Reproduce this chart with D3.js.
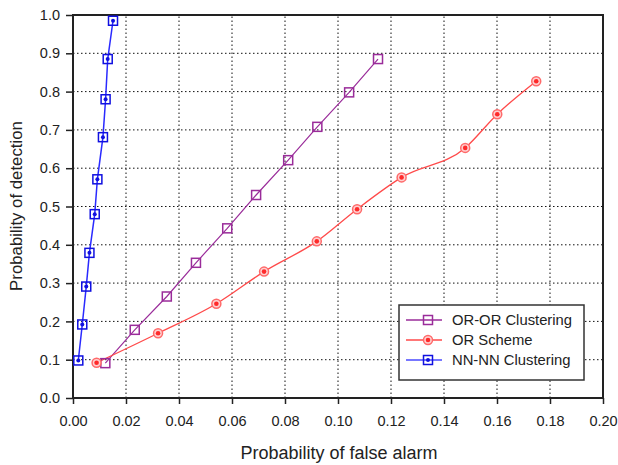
<!DOCTYPE html>
<html>
<head>
<meta charset="utf-8">
<script src="https://cdn.jsdelivr.net/npm/d3@7"></script>
<style>
  body { margin: 0; background: #fff; }
  text { font-family: Arial, "Liberation Sans", sans-serif; fill: #222; }
</style>
</head>
<body>
<div id="chart"></div>
<script>
// ---- data ----
var orOrPfa = [0.0122, 0.0233, 0.0354, 0.0464, 0.0582, 0.0691, 0.0812, 0.0922, 0.1042, 0.1151];
var orOrPd  = [0.091, 0.178, 0.265, 0.353, 0.443, 0.530, 0.621, 0.708, 0.798, 0.885];

var orPfa = [0.0089, 0.0321, 0.0541, 0.0721, 0.0920, 0.1072, 0.1240, 0.1480, 0.1601, 0.1748];
var orPd  = [0.092, 0.169, 0.246, 0.330, 0.409, 0.493, 0.576, 0.653, 0.741, 0.827];

var nnPfa = [0.0020, 0.0035, 0.0050, 0.0062, 0.0082, 0.0092, 0.0113, 0.0123, 0.0131, 0.0151];
var nnPd  = [0.098, 0.192, 0.291, 0.379, 0.480, 0.571, 0.681, 0.780, 0.885, 0.985];

var xTicks = [0, 0.02, 0.04, 0.06, 0.08, 0.10, 0.12, 0.14, 0.16, 0.18, 0.20];
var yTicks = [0, 0.1, 0.2, 0.3, 0.4, 0.5, 0.6, 0.7, 0.8, 0.9, 1.0];
var seriesNames = ["OR-OR Clustering", "OR Scheme", "NN-NN Clustering"];

//=====================================================
var width = 618, height = 465;
var margin = { left: 73, top: 15, right: 15, bottom: 67 };

var svg = d3.select("#chart").append("svg")
  .attr("width", width)
  .attr("height", height);

var x = d3.scaleLinear().domain([0, 0.2]).range([margin.left, width - margin.right]);
var y = d3.scaleLinear().domain([0, 1]).range([height - margin.bottom, margin.top]);

// grid
var grid = svg.append("g").attr("class", "grid");
grid.selectAll(".gx").data(xTicks.slice(1, -1)).enter().append("line")
  .attr("x1", function(d) { return x(d); }).attr("x2", function(d) { return x(d); })
  .attr("y1", y(0)).attr("y2", y(1))
  .attr("stroke", "#111").attr("stroke-width", 1).attr("stroke-dasharray", "1.5,2.5");
grid.selectAll(".gy").data(yTicks.slice(1, -1)).enter().append("line")
  .attr("y1", function(d) { return y(d); }).attr("y2", function(d) { return y(d); })
  .attr("x1", x(0)).attr("x2", x(0.2))
  .attr("stroke", "#111").attr("stroke-width", 1).attr("stroke-dasharray", "1.5,2.5");

// axes
var xAxis = svg.append("g")
  .attr("transform", "translate(0," + y(0) + ")")
  .call(d3.axisBottom(x).tickValues(xTicks).tickFormat(d3.format(".2f")).tickSize(6).tickPadding(12));
var yAxis = svg.append("g")
  .attr("transform", "translate(" + x(0) + ",0)")
  .call(d3.axisLeft(y).tickValues(yTicks).tickFormat(d3.format(".1f")).tickSize(7).tickPadding(6));

[xAxis, yAxis].forEach(function(a) {
  a.select(".domain").remove();
  a.selectAll("line").attr("stroke", "#222").attr("stroke-width", 1.5);
  a.selectAll("text").attr("font-size", 14.5).attr("fill", "#222")
    .attr("font-family", "Arial, 'Liberation Sans', sans-serif");
});

// frame
svg.append("rect")
  .attr("x", x(0)).attr("y", y(1))
  .attr("width", x(0.2) - x(0)).attr("height", y(0) - y(1))
  .attr("fill", "none").attr("stroke", "#222").attr("stroke-width", 2);

// axis titles
svg.append("text")
  .attr("x", 339).attr("y", 459)
  .attr("text-anchor", "middle").attr("font-size", 18)
  .text("Probability of false alarm");
svg.append("text")
  .attr("transform", "translate(22," + 206 + ") rotate(-90)")
  .attr("text-anchor", "middle").attr("font-size", 16.8)
  .text("Probability of detection");

//=====================================================
var purple = "#9a2c9a", red = "#ff2a2a", blue = "#1010e0";

function pts(xs, ys) { return xs.map(function(v, i) { return [v, ys[i]]; }); }

var lineLin = d3.line().x(function(d) { return x(d[0]); }).y(function(d) { return y(d[1]); });
var lineCurve = d3.line().curve(d3.curveMonotoneX)
  .x(function(d) { return x(d[0]); }).y(function(d) { return y(d[1]); });

var plot = svg.append("g");

// OR-OR clustering
plot.append("path").datum(pts(orOrPfa, orOrPd))
  .attr("d", lineLin).attr("fill", "none").attr("stroke", purple).attr("stroke-width", 1.2);
// OR scheme
plot.append("path").datum(pts(orPfa, orPd))
  .attr("d", lineCurve).attr("fill", "none").attr("stroke", "#ff4a4a").attr("stroke-width", 1.3);
// NN-NN clustering
plot.append("path").datum(pts(nnPfa, nnPd))
  .attr("d", lineLin).attr("fill", "none").attr("stroke", "#2a2aff").attr("stroke-width", 1.5);

function squareMarker(g, color, dot) {
  g.append("rect").attr("x", -4.5).attr("y", -4.5).attr("width", 9).attr("height", 9)
    .attr("fill", "none").attr("stroke", color).attr("stroke-width", 1.5);
  if (dot) g.append("circle").attr("r", 2).attr("fill", color);
}
function circleMarker(g) {
  g.append("circle").attr("r", 4.5).attr("fill", "#ffd0d0").attr("stroke", "#ff6a6a").attr("stroke-width", 1.5);
  g.append("circle").attr("r", 2.3).attr("fill", red);
}

plot.selectAll(".m1").data(pts(orOrPfa, orOrPd)).enter().append("g")
  .attr("transform", function(d) { return "translate(" + x(d[0]) + "," + y(d[1]) + ")"; })
  .each(function() { squareMarker(d3.select(this), purple, false); });
plot.selectAll(".m2").data(pts(orPfa, orPd)).enter().append("g")
  .attr("transform", function(d) { return "translate(" + x(d[0]) + "," + y(d[1]) + ")"; })
  .each(function() { circleMarker(d3.select(this)); });
plot.selectAll(".m3").data(pts(nnPfa, nnPd)).enter().append("g")
  .attr("transform", function(d) { return "translate(" + x(d[0]) + "," + y(d[1]) + ")"; })
  .each(function() { squareMarker(d3.select(this), blue, true); });

//=====================================================
// legend
var legend = svg.append("g").attr("transform", "translate(399,305)");
legend.append("rect").attr("width", 185).attr("height", 75)
  .attr("fill", "#fff").attr("stroke", "#333").attr("stroke-width", 1.5);

var legColors = [purple, "#ff4a4a", "#4a4aff"];
seriesNames.forEach(function(name, i) {
  var row = legend.append("g").attr("transform", "translate(0," + (15 + i * 20) + ")");
  row.append("line").attr("x1", 7).attr("x2", 43).attr("y1", 0).attr("y2", 0)
    .attr("stroke", legColors[i]).attr("stroke-width", 1.5);
  var m = row.append("g").attr("transform", "translate(29,0)");
  if (i === 0) squareMarker(m, purple, false);
  else if (i === 1) circleMarker(m);
  else squareMarker(m, blue, true);
  row.append("text").attr("x", 53).attr("y", 5).attr("font-size", 14.8).text(name);
});
</script>
</body>
</html>
